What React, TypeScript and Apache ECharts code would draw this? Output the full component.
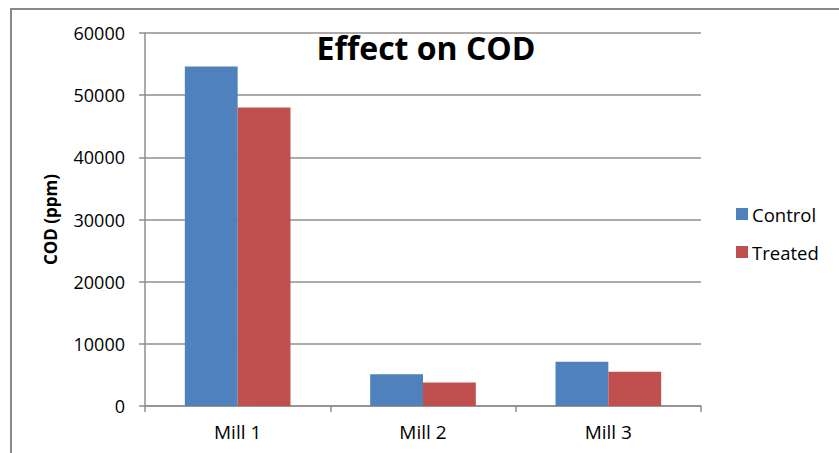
import React, { useEffect, useRef } from "react";
import * as echarts from "echarts";

// Chemical oxygen demand per mill, before and after treatment
const categories = ["Mill 1", "Mill 2", "Mill 3"];
const controlValues = [54600, 5100, 7100];
const treatedValues = [48000, 3800, 5500];
const seriesNames = ["Control", "Treated"];

const FONT = "'Open Sans', 'Noto Sans', sans-serif";
const GRID_COLOR = "#948d8d";

export default function App() {
  const ref = useRef<HTMLDivElement>(null);

  useEffect(() => {
    if (!ref.current) return;
    const chart = echarts.init(ref.current, undefined, { renderer: "svg" });
    chart.setOption({
      animation: false,
      backgroundColor: "#ffffff",
      textStyle: { fontFamily: FONT },
      title: {
        text: "Effect on COD",
        left: 421,
        top: 26,
        textAlign: "center",
        textStyle: { fontFamily: FONT, fontSize: 32, fontWeight: "bold", color: "#000" },
      },
      graphic: [
        {
          type: "polyline",
          shape: { points: [[11, 453], [11, 9], [839, 9]] },
          style: { stroke: "#8a8a8a", lineWidth: 2, fill: "none" },
          silent: true,
        },
      ],
      legend: {
        orient: "vertical",
        left: 736,
        top: 203,
        padding: 0,
        itemWidth: 12,
        itemHeight: 12,
        itemGap: 16,
        icon: "rect",
        textStyle: { fontFamily: FONT, fontSize: 18.5, color: "#000", lineHeight: 22, padding: [0, 0, 0, -1] },
        data: seriesNames,
      },
      grid: { left: 145, right: 138, top: 33, bottom: 47, containLabel: false },
      xAxis: {
        type: "category",
        data: categories,
        axisLine: { show: true, lineStyle: { color: GRID_COLOR, width: 1.5 } },
        axisTick: { show: true, alignWithLabel: false, length: 6, lineStyle: { color: GRID_COLOR, width: 1.5 } },
        axisLabel: { fontFamily: FONT, fontSize: 19, color: "#000", margin: 16 },
      },
      yAxis: {
        type: "value",
        min: 0,
        max: 60000,
        interval: 10000,
        name: "COD (ppm)",
        nameLocation: "middle",
        nameGap: 86,
        nameTextStyle: { fontFamily: FONT, fontSize: 17, fontWeight: "bold", color: "#000" },
        axisLine: { show: true, lineStyle: { color: GRID_COLOR, width: 1.5 } },
        axisTick: { show: true, length: 6, lineStyle: { color: GRID_COLOR, width: 1.5 } },
        axisLabel: {
          fontFamily: FONT,
          fontSize: 18,
          color: "#000",
          margin: 20,
          formatter: (v: number) => String(v),
        },
        splitLine: { show: true, lineStyle: { color: GRID_COLOR, width: 1.5 } },
      },
      series: [
        {
          name: seriesNames[0],
          type: "bar",
          data: controlValues,
          itemStyle: { color: "#4f81bd" },
          barGap: "0%",
          barCategoryGap: "43%",
        },
        {
          name: seriesNames[1],
          type: "bar",
          data: treatedValues,
          itemStyle: { color: "#c0504d" },
          barGap: "0%",
          barCategoryGap: "43%",
        },
      ],
    });
    return () => chart.dispose();
  }, []);

  return (
    <div
      ref={ref}
      style={{ position: "fixed", left: 0, top: 0, width: 839, height: 453 }}
    />
  );
}
